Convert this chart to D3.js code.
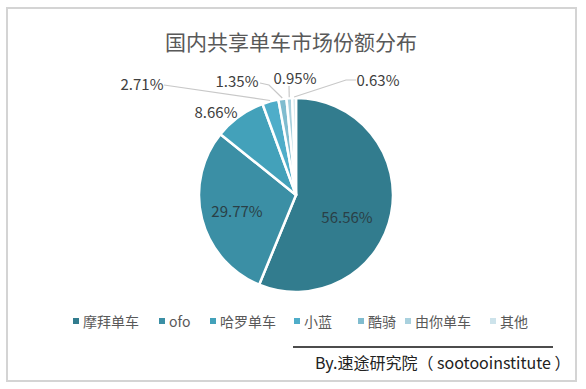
<!DOCTYPE html>
<html><head><meta charset="utf-8">
<script src="https://cdn.jsdelivr.net/npm/d3@7"></script>
<style>
html,body{margin:0;padding:0;background:#fff;}
text{font-family:"Noto Sans CJK SC","Microsoft YaHei",sans-serif;}
</style></head>
<body><svg id="c" width="586" height="389"></svg>
<script>
const categories = ["摩拜单车","ofo","哈罗单车","小蓝","酷骑","由你单车","其他"];
const values = [56.56, 29.77, 8.66, 2.71, 1.35, 0.95, 0.63];
const labels = ["56.56%","29.77%","8.66%","2.71%","1.35%","0.95%","0.63%"];
const colors = ["#327c8e","#3b8fa5","#43a1ba","#4fadc9","#80bccf","#a9d1de","#cde3eb"];
const title = "国内共享单车市场份额分布";
const source = "By.速途研究院（ sootooinstitute ）";

const svg = d3.select("#c");
svg.append("rect").attr("x",7).attr("y",8).attr("width",569).attr("height",373)
  .attr("fill","#fff").attr("stroke","#d4d4d4").attr("stroke-width",2);

svg.append("text").attr("x",291).attr("y",50).attr("text-anchor","middle")
  .attr("font-size",21).attr("fill","#595959").text(title);

const cx=296, cy=195, R=97;
const g = svg.append("g").attr("transform",`translate(${cx},${cy})`);
const pie = d3.pie().sort(null).value(d=>d)(values);
const arc = d3.arc().innerRadius(0).outerRadius(R);
g.selectAll("path").data(pie).join("path")
  .attr("d",arc).attr("fill",(d,i)=>colors[i])
  .attr("stroke","#fff").attr("stroke-width",2.5).attr("stroke-linejoin","round");

const lay = [
  {t:"in", x:51, y:23},
  {t:"in", x:-59, y:17},
  {t:"out", x:-80, y:-82},
  {t:"lead", x:-154, y:-110, pts:[[-132,-110]]},
  {t:"lead", x:-59, y:-113, pts:[[-36,-112],[-27,-110]]},
  {t:"lead", x:-1, y:-116, pts:[[-7,-109]]},
  {t:"lead", x:82, y:-114, pts:[[60,-115],[50,-115]]}
];
const edge = d3.arc().innerRadius(R+1).outerRadius(R+1);
pie.forEach((d,i)=>{
  const L = lay[i];
  if(L.t==="lead"){
    const e = edge.centroid(d);
    const pts = L.pts.concat([e]);
    g.append("path").attr("d", d3.line()(pts)).attr("fill","none")
      .attr("stroke","#c8c8c8").attr("stroke-width",1.2);
  }
  g.append("text").attr("x",L.x).attr("y",L.y).attr("dy","0.35em")
    .attr("text-anchor","middle").attr("font-size",15)
    .attr("fill", L.t==="in" ? "#2a3f46" : "#404040").text(labels[i]);
});

const legX = [73,159,210,294,358,405,490];
const lg = svg.append("g");
categories.forEach((c,i)=>{
  lg.append("rect").attr("x",legX[i]).attr("y",318).attr("width",6).attr("height",6).attr("fill",colors[i]);
  lg.append("text").attr("x",legX[i]+10).attr("y",322).attr("dy","0.35em")
    .attr("font-size",14).attr("fill","#595959").text(c);
});

svg.append("line").attr("x1",293).attr("x2",553).attr("y1",347).attr("y2",347)
  .attr("stroke","#111").attr("stroke-width",1.5);
svg.append("text").attr("x",315).attr("y",363).attr("dy","0.35em")
  .attr("font-size",16).attr("fill","#222").text(source);
</script></body></html>
